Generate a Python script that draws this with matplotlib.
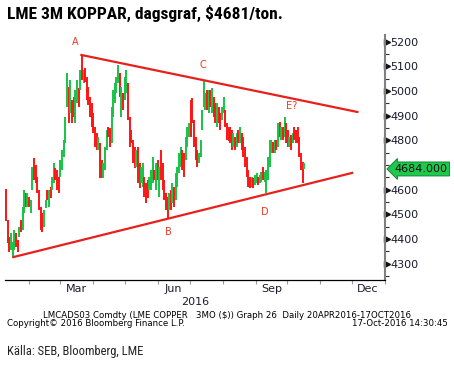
import matplotlib
matplotlib.use('Agg')
import matplotlib.pyplot as plt
import matplotlib.dates as mdates
import matplotlib.transforms as mtransforms
import numpy as np
from datetime import datetime

# daily bars (high / low), Jan 2016 - 17 Oct 2016
highs = [4603, 4477, 4408, 4424, 4388, 4437, 4424, 4396, 4449, 4477,
         4530, 4599, 4587, 4587, 4570, 4558, 4692, 4729, 4700, 4651,
         4599, 4530, 4505, 4518, 4558, 4599, 4599, 4611, 4651, 4708,
         4688, 4680, 4651, 4720, 4761, 4801, 4895, 5073, 5016, 5045,
         4964, 4976, 5004, 5045, 5012,
         5085, 5146, 5085, 5093, 5057, 5016, 4976, 4951, 4911, 4854,
         4830, 4814, 4789, 4720, 4708, 4773, 4842, 4854, 4850, 4935,
         5004, 5033, 5057, 5106, 5073, 5016, 4992, 5057, 5085, 5033,
         4895, 4842, 4801, 4773, 4761, 4773, 4708, 4692, 4708, 4651,
         4627, 4639, 4651, 4680, 4733,
         4680, 4708, 4720, 4692, 4761, 4708, 4639, 4587, 4570, 4587,
         4599, 4627, 4611, 4668, 4692, 4749, 4773, 4761, 4749, 4814,
         4854, 4870, 4964, 4972, 4884, 4814, 4761, 4749, 4801, 4923,
         5045, 4992, 5004, 5004, 5004, 5012, 4976, 4951, 4951, 4935,
         4911, 4935, 4976, 4923, 4870, 4854,
         4854, 4842, 4830, 4814, 4830, 4842, 4854, 4830, 4814, 4773,
         4733, 4680, 4651, 4651, 4647, 4660, 4668, 4651, 4660, 4672,
         4692, 4672, 4680, 4733, 4801, 4801, 4793, 4801, 4801, 4870,
         4874, 4854, 4854, 4895, 4870, 4842, 4814, 4822, 4830, 4854,
         4842, 4854, 4814, 4749, 4712, 4708]
lows = [4473, 4384, 4347, 4355, 4323, 4355, 4368, 4347, 4408, 4428,
        4437, 4505, 4530, 4530, 4530, 4505, 4599, 4639, 4627, 4587,
        4518, 4437, 4428, 4449, 4526, 4558, 4530, 4566, 4599, 4627,
        4639, 4599, 4587, 4651, 4680, 4733, 4789, 4935, 4870, 4911,
        4870, 4895, 4870, 4951, 4935,
        5004, 5045, 5033, 5037, 4964, 4943, 4895, 4854, 4830, 4773,
        4761, 4761, 4647, 4647, 4647, 4680, 4761, 4814, 4773, 4789,
        4895, 4951, 4992, 5033, 4976, 4895, 4923, 4964, 4992, 4884,
        4773, 4789, 4708, 4688, 4692, 4627, 4607, 4627, 4611, 4570,
        4546, 4566, 4599, 4599, 4627,
        4639, 4599, 4639, 4570, 4639, 4599, 4558, 4518, 4485, 4518,
        4518, 4546, 4530, 4558, 4611, 4668, 4692, 4680, 4651, 4720,
        4773, 4814, 4814, 4870, 4773, 4720, 4692, 4708, 4733, 4842,
        4935, 4923, 4923, 4911, 4935, 4911, 4895, 4870, 4854, 4870,
        4842, 4884, 4911, 4854, 4801, 4797,
        4789, 4761, 4773, 4761, 4773, 4789, 4789, 4761, 4733, 4692,
        4651, 4611, 4607, 4611, 4607, 4619, 4627, 4619, 4627, 4631,
        4639, 4631, 4587, 4639, 4692, 4749, 4749, 4749, 4761, 4773,
        4814, 4801, 4801, 4814, 4789, 4773, 4773, 4761, 4789, 4801,
        4789, 4789, 4733, 4680, 4627, 4684]
# u = up day (green), d = down day (red)
direction = ("ddduu uddud uudud uuddd ddduu duduu ddduu uuudu dduud "
             "ududd ddddd duddu uuddu uuuud uduud ddddu dduud dduuu "
             "dudud ddddu duduu uuddu uuddd dduuu uudud uddud duudd d "
             "ddudu duddd dddud uuduu duuuu ududu dudud dudud dddddu").replace(" ", "")

first_day = datetime(2016, 1, 10)
last_day = datetime(2016, 10, 17)
last_price = 4684

# triangle trend lines (date, price)
upper_dates = [datetime(2016, 3, 21), datetime(2016, 12, 6)]
upper_prices = [5146, 4915]
lower_dates = [datetime(2016, 1, 17), datetime(2016, 12, 1)]
lower_prices = [4327, 4668]

wave_labels = ['A', 'B', 'C', 'D', 'E?']
wave_dates = [datetime(2016, 3, 15), datetime(2016, 6, 11), datetime(2016, 7, 13),
              datetime(2016, 9, 10), datetime(2016, 10, 5)]
wave_prices = [5199, 4428, 5105, 4510, 4939]

yticks = [4300, 4400, 4500, 4600, 4800, 4900, 5000, 5100, 5200]

n = len(highs)
dates = np.linspace(mdates.date2num(first_day), mdates.date2num(last_day), n)
cols = ['#16c444' if d == 'u' else '#ff1414' for d in direction]

W, H = 454, 370
fig = plt.figure(figsize=(W / 100, H / 100), dpi=100)
ax = fig.add_axes([5 / W, 1 - 280 / H, 380 / W, 245 / H])

ax.vlines(dates, lows, highs, colors=cols, linewidth=1.4)
ax.plot(mdates.date2num(upper_dates), upper_prices, color='#e8201c', lw=1.6)
ax.plot(mdates.date2num(lower_dates), lower_prices, color='#e8201c', lw=1.6)

for lab, d, p in zip(wave_labels, wave_dates, wave_prices):
    ax.text(mdates.date2num(d), p, lab, color='#ee3b22', fontsize=7,
            ha='center', va='center')

ax.set_xlim(mdates.date2num(datetime(2016, 1, 9)), mdates.date2num(datetime(2017, 1, 1)))
ax.set_ylim(4234, 5227)

for s in ['top', 'left']:
    ax.spines[s].set_visible(False)
ax.spines['right'].set_color('#808080')
ax.spines['right'].set_linewidth(1.5)
ax.spines['bottom'].set_color('#000000')
ax.spines['bottom'].set_linewidth(0.9)

ax.yaxis.tick_right()
ax.set_yticks(yticks)
ax.set_yticks(np.arange(4250, 5250, 50), minor=True)
ax.tick_params(axis='y', which='major', length=0, pad=4, labelsize=8,
               labelcolor='#1a1a2e')
ax.tick_params(axis='y', which='minor', length=3, width=0.8, color='#333333')
trans = mtransforms.blended_transform_factory(ax.transAxes, ax.transData)
ax.plot([1.004] * len(yticks), yticks, marker='>', ms=4, color='#111111',
        ls='none', transform=trans, clip_on=False)

ax.xaxis.set_major_locator(mdates.MonthLocator())
ax.xaxis.set_major_formatter(plt.NullFormatter())
ax.xaxis.set_minor_locator(mdates.MonthLocator(bymonth=[3, 6, 9, 12], bymonthday=16))
ax.xaxis.set_minor_formatter(mdates.DateFormatter('%b'))
ax.tick_params(axis='x', which='major', length=3, width=0.8, color='#999999')
ax.tick_params(axis='x', which='minor', length=0, pad=3, labelsize=8,
               labelcolor='#1a1a2e')

# last price box
ax.text(1.025, last_price, '%.3f' % last_price, transform=trans, fontsize=8,
        va='center', ha='left', color='#111111', clip_on=False,
        bbox=dict(boxstyle='larrow,pad=0.18', fc='#1fc74d', ec='#0a7a2a', lw=0.6))

fig.text(195 / W, 1 - 302 / H, '2016', fontsize=8, ha='center', va='center',
         color='#1a1a2e')
fig.text(227 / W, 1 - 315 / H,
         'LMCADS03 Comdty (LME COPPER   3MO ($)) Graph 26  Daily 20APR2016-17OCT2016',
         fontsize=6.2, ha='center', va='center')
fig.text(7 / W, 1 - 324 / H, 'Copyright\u00a9 2016 Bloomberg Finance L.P.',
         fontsize=6.2, ha='left', va='center')
fig.text(448 / W, 1 - 324 / H, '17-Oct-2016 14:30:45',
         fontsize=6.2, ha='right', va='center')

narrow = ['Liberation Sans Narrow', 'Roboto Condensed', 'Roboto', 'DejaVu Sans']
fig.text(7 / W, 1 - 13 / H, 'LME 3M KOPPAR, dagsgraf, $4681/ton.',
         fontsize=12.5, fontweight='bold', family=narrow, ha='left', va='center')
fig.text(7 / W, 1 - 351 / H, 'Källa: SEB, Bloomberg, LME',
         fontsize=9, family=narrow, ha='left', va='center', color='#222222')

plt.savefig('out.png', dpi=100)
